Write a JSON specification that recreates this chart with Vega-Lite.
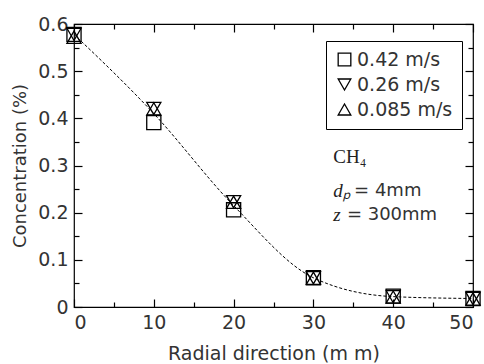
{
  "$schema": "https://vega.github.io/schema/vega-lite/v6.json",
  "width": 399,
  "height": 283,
  "autosize": "none",
  "padding": {"left": 74, "top": 24, "right": 11, "bottom": 57},
  "background": "white",
  "config": {
    "view": {"stroke": "black", "strokeWidth": 1.2},
    "font": "DejaVu Sans",
    "axis": {
      "domain": false,
      "grid": false,
      "tickColor": "black",
      "tickWidth": 1.2,
      "labelColor": "#333",
      "labelFontSize": 19,
      "titleColor": "#333",
      "titleFontSize": 18,
      "titleFontWeight": "normal"
    }
  },
  "datasets": {
    "points": [
      {"x": 0, "y": 0.578, "series": "0.42 m/s"},
      {"x": 10, "y": 0.391, "series": "0.42 m/s"},
      {"x": 20, "y": 0.206, "series": "0.42 m/s"},
      {"x": 30, "y": 0.062, "series": "0.42 m/s"},
      {"x": 40, "y": 0.023, "series": "0.42 m/s"},
      {"x": 50, "y": 0.018, "series": "0.42 m/s"},
      {"x": 0, "y": 0.578, "series": "0.26 m/s"},
      {"x": 10, "y": 0.421, "series": "0.26 m/s"},
      {"x": 20, "y": 0.223, "series": "0.26 m/s"},
      {"x": 30, "y": 0.062, "series": "0.26 m/s"},
      {"x": 40, "y": 0.022, "series": "0.26 m/s"},
      {"x": 50, "y": 0.018, "series": "0.26 m/s"},
      {"x": 0, "y": 0.572, "series": "0.085 m/s"},
      {"x": 10, "y": 0.42, "series": "0.085 m/s"},
      {"x": 20, "y": 0.222, "series": "0.085 m/s"},
      {"x": 30, "y": 0.061, "series": "0.085 m/s"},
      {"x": 40, "y": 0.021, "series": "0.085 m/s"},
      {"x": 50, "y": 0.017, "series": "0.085 m/s"}
    ],
    "curve": [
      {"x": 0, "y": 0.578},
      {"x": 10, "y": 0.41},
      {"x": 20, "y": 0.215},
      {"x": 30, "y": 0.062},
      {"x": 40, "y": 0.022},
      {"x": 50, "y": 0.018}
    ],
    "serif": [{"x": 32.5, "y": 0.318, "t": "CH₄"}],
    "italic": [
      {"x": 32.5, "y": 0.245, "t": "dₚ"},
      {"x": 32.5, "y": 0.196, "t": "z"}
    ],
    "sans": [
      {"x": 35.1, "y": 0.245, "t": "= 4mm"},
      {"x": 34.2, "y": 0.196, "t": "= 300mm"}
    ]
  },
  "layer": [
    {
      "data": {"name": "curve"},
      "mark": {"type": "line", "color": "black", "strokeWidth": 1, "strokeDash": [3, 2], "interpolate": "monotone"},
      "encoding": {
        "x": {
          "field": "x", "type": "quantitative",
          "scale": {"domain": [0, 50], "nice": false},
          "axis": {
            "orient": "bottom",
            "title": "Radial direction (m m)",
            "titleFontSize": 19,
            "values": [0, 5, 10, 15, 20, 25, 30, 35, 40, 45, 50],
            "labelExpr": "datum.value % 10 === 0 ? datum.label : ''",
            "tickSize": {"condition": {"test": "datum.value % 10 === 0", "value": -8}, "value": -5},
            "labelPadding": 14,
            "titlePadding": 12
          }
        },
        "y": {
          "field": "y", "type": "quantitative",
          "scale": {"domain": [0, 0.6], "nice": false},
          "axis": {
            "orient": "left",
            "title": "Concentration (%)",
            "values": [0, 0.05, 0.1, 0.15, 0.2, 0.25, 0.3, 0.35, 0.4, 0.45, 0.5, 0.55, 0.6],
            "labelExpr": "datum.value === 0 ? '0' : (round(datum.value * 100) % 10 === 0 ? format(datum.value, '.1f') : '')",
            "tickSize": {"condition": {"test": "round(datum.value * 100) % 10 === 0", "value": -8}, "value": -5},
            "labelPadding": 14,
            "titlePadding": 8
          }
        }
      }
    },
    {
      "data": {"name": "points"},
      "mark": {"type": "point", "filled": false, "color": "black", "strokeWidth": 1.3, "size": 200, "opacity": 1},
      "encoding": {
        "x": {"field": "x", "type": "quantitative", "axis": null},
        "y": {"field": "y", "type": "quantitative", "axis": null},
        "shape": {
          "field": "series", "type": "nominal",
          "scale": {"domain": ["0.42 m/s", "0.26 m/s", "0.085 m/s"], "range": ["square", "triangle-down", "triangle-up"]},
          "legend": {
            "title": null,
            "orient": "none",
            "legendX": 252,
            "legendY": 17,
            "strokeColor": "black",
            "padding": 9,
            "labelFontSize": 19,
            "labelColor": "#333",
            "symbolSize": 160,
            "symbolStrokeColor": "black",
            "symbolStrokeWidth": 1.3,
            "rowPadding": 5,
            "labelOffset": 3
          }
        }
      }
    },
    {
      "data": {"name": "serif"},
      "mark": {"type": "text", "font": "Liberation Serif", "fontSize": 19, "align": "left", "baseline": "middle", "color": "#222"},
      "encoding": {
        "x": {"field": "x", "type": "quantitative", "axis": null},
        "y": {"field": "y", "type": "quantitative", "axis": null},
        "text": {"field": "t"}
      }
    },
    {
      "data": {"name": "italic"},
      "mark": {"type": "text", "font": "Liberation Serif", "fontStyle": "italic", "fontSize": 19, "align": "left", "baseline": "middle", "color": "#222"},
      "encoding": {
        "x": {"field": "x", "type": "quantitative", "axis": null},
        "y": {"field": "y", "type": "quantitative", "axis": null},
        "text": {"field": "t"}
      }
    },
    {
      "data": {"name": "sans"},
      "mark": {"type": "text", "fontSize": 18, "align": "left", "baseline": "middle", "color": "#333"},
      "encoding": {
        "x": {"field": "x", "type": "quantitative", "axis": null},
        "y": {"field": "y", "type": "quantitative", "axis": null},
        "text": {"field": "t"}
      }
    },
    {
      "data": {"name": "curve"},
      "mark": {"type": "point", "opacity": 0},
      "encoding": {
        "x": {
          "field": "x", "type": "quantitative",
          "axis": {
            "orient": "top", "title": null, "labels": false,
            "values": [0, 5, 10, 15, 20, 25, 30, 35, 40, 45, 50],
            "tickSize": {"condition": {"test": "datum.value % 10 === 0", "value": -8}, "value": -5}
          }
        },
        "y": {
          "field": "y", "type": "quantitative",
          "axis": {
            "orient": "right", "title": null, "labels": false,
            "values": [0, 0.05, 0.1, 0.15, 0.2, 0.25, 0.3, 0.35, 0.4, 0.45, 0.5, 0.55, 0.6],
            "tickSize": {"condition": {"test": "round(datum.value * 100) % 10 === 0", "value": -8}, "value": -5}
          }
        }
      }
    }
  ],
  "resolve": {"axis": {"x": "independent", "y": "independent"}}
}
